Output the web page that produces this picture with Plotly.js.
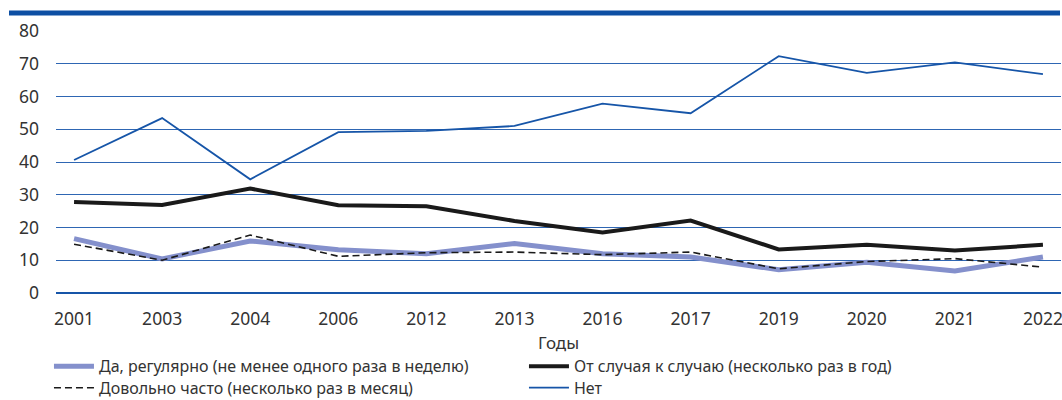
<!DOCTYPE html>
<html>
<head>
<meta charset="utf-8">
<script src="https://cdn.plot.ly/plotly-3.0.1.min.js"></script>
<style>html,body{margin:0;padding:0;background:#fff;}#chart{width:1062px;height:400px;}</style>
</head>
<body>
<div id="chart"></div>
<script>
const years = ["2001","2003","2004","2006","2012","2013","2016","2017","2019","2020","2021","2022"];
const regularly = [16.6,10.4,15.9,13.2,12.0,15.1,12.0,11.0,7.1,9.4,6.7,11.0];
const occasionally = [27.8,26.9,31.9,26.8,26.5,22.0,18.5,22.1,13.3,14.7,13.0,14.7];
const often = [14.9,10.0,17.7,11.2,12.3,12.5,11.7,12.5,7.4,9.6,10.5,7.9];
const never = [40.6,53.4,34.7,49.1,49.5,51.0,57.8,54.9,72.3,67.2,70.4,66.8];
const yTicks = [0,10,20,30,40,50,60,70,80];
const names = [
  "Да, регулярно (не менее одного раза в неделю)",
  "От случая к случаю (несколько раз в год)",
  "Довольно часто (несколько раз в месяц)",
  "Нет"
];

const traces = [
  {x: years, y: regularly, name: names[0], type: "scatter", mode: "lines",
   line: {color: "#8490cc", width: 5}, legend: "legend", legendrank: 1},
  {x: years, y: often, name: names[2], type: "scatter", mode: "lines",
   line: {color: "#1a1a1a", width: 1.6, dash: "7px,4px"}, legend: "legend2", legendrank: 1},
  {x: years, y: occasionally, name: names[1], type: "scatter", mode: "lines",
   line: {color: "#1a1a1a", width: 4}, legend: "legend", legendrank: 2},
  {x: years, y: never, name: names[3], type: "scatter", mode: "lines",
   line: {color: "#1655a8", width: 1.8}, legend: "legend2", legendrank: 2}
];

const font = "'Noto Sans', 'Open Sans', sans-serif";
const legendBase = {
  orientation: "h", xanchor: "left", yanchor: "top",
  entrywidth: 420, entrywidthmode: "pixels",
  font: {family: font, size: 16, color: "#333"},
  itemwidth: 40, bgcolor: "rgba(0,0,0,0)"
};
const layout = {
  width: 1062, height: 400,
  margin: {l: 56, r: 1, t: 31, b: 107, pad: 0, autoexpand: false},
  paper_bgcolor: "#fff", plot_bgcolor: "#fff",
  font: {family: font, size: 17.5, color: "#333"},
  showlegend: true,
  legend: Object.assign({}, legendBase, {x: -0.007, y: -0.2149}),
  legend2: Object.assign({}, legendBase, {x: -0.007, y: -0.2969}),
  xaxis: {
    type: "category", range: [-0.205, 11.205], automargin: false,
    showgrid: false, zeroline: false, showline: false,
    ticks: "", ticklabelstandoff: 13, tickfont: {size: 17.5, color: "#333"},
    title: {text: "Годы", font: {size: 17, color: "#333"}, standoff: 8}
  },
  yaxis: {
    range: [0, 80], tickvals: yTicks, ticktext: yTicks.map(String), automargin: false,
    showgrid: true, gridcolor: "#2e66b3", gridwidth: 1,
    zeroline: true, zerolinecolor: "#1655a8", zerolinewidth: 1.2,
    showline: false, ticks: "", ticklabelstandoff: 16,
    tickfont: {size: 17.5, color: "#333"}
  },
  shapes: [{
    type: "rect", xref: "paper", yref: "paper",
    x0: (9 - 56) / 1005, x1: (1060 - 56) / 1005,
    y0: (292.5 - 15) / 262, y1: (292.5 - 10) / 262,
    fillcolor: "#0d4fa3", line: {width: 0}, layer: "above"
  }]
};

Plotly.newPlot("chart", traces, layout, {displayModeBar: false, staticPlot: true});
</script>
</body>
</html>
